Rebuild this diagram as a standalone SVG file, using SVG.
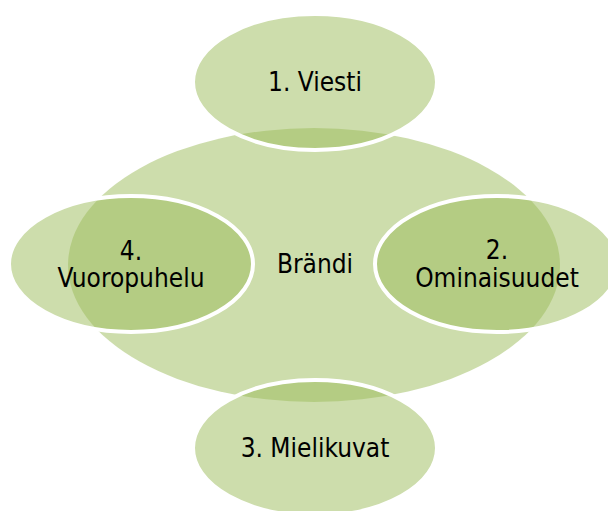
<svg xmlns="http://www.w3.org/2000/svg" width="608" height="511" viewBox="0 0 608 511">
  <style>
    .hub { fill: #9BBB59; fill-opacity: 0.5; stroke: none; }
    .sat { fill: #9BBB59; fill-opacity: 0.5; stroke: #FFFFFF; stroke-width: 4; }
    .label { font-family: "DejaVu Sans Condensed", "DejaVu Sans", sans-serif; font-stretch: condensed; font-size: 26px; fill: #000000; text-anchor: middle; }
  </style>
  <rect width="608" height="511" fill="#FFFFFF"/>

  <!-- central brand ellipse -->
  <g id="node-brandi">
    <ellipse class="hub" cx="314" cy="265" rx="246" ry="137"/>
    <text class="label" x="315" y="273">Brändi</text>
  </g>

  <!-- four satellite ellipses around the hub -->
  <g id="node-viesti">
    <ellipse class="sat" cx="315" cy="82" rx="122" ry="68"/>
    <text class="label" x="315" y="91">1. Viesti</text>
  </g>
  <g id="node-ominaisuudet">
    <ellipse class="sat" cx="497" cy="264" rx="122" ry="68"/>
    <text class="label" x="497" y="259">2.</text>
    <text class="label" x="497" y="287">Ominaisuudet</text>
  </g>
  <g id="node-mielikuvat">
    <ellipse class="sat" cx="315" cy="448" rx="122" ry="68"/>
    <text class="label" x="315" y="457">3. Mielikuvat</text>
  </g>
  <g id="node-vuoropuhelu">
    <ellipse class="sat" cx="131" cy="264" rx="122" ry="68"/>
    <text class="label" x="131" y="260">4.</text>
    <text class="label" x="131" y="287">Vuoropuhelu</text>
  </g>

  <g id="connectors"/>
</svg>
